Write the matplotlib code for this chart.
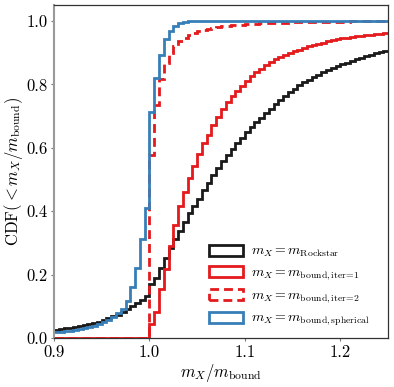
import numpy as np
import matplotlib
matplotlib.use("Agg")
import matplotlib.pyplot as plt
from matplotlib.patches import Patch

plt.rcParams['font.family'] = 'cmr10'
plt.rcParams['mathtext.fontset'] = 'cm'
plt.rcParams['axes.formatter.use_mathtext'] = True

# bin edges 0.900 ... 1.250 step 0.005
bin_width = 0.005
x_start = 0.9
n_bins = 70

cdf_rockstar = [
    0.025, 0.027, 0.030, 0.032, 0.035, 0.038, 0.041, 0.044, 0.048, 0.052,
    0.057, 0.062, 0.068, 0.074, 0.082, 0.090, 0.100, 0.110, 0.121, 0.133,
    0.170, 0.190, 0.220, 0.252, 0.284, 0.312, 0.338, 0.365, 0.393, 0.416,
    0.438, 0.466, 0.490, 0.515, 0.537, 0.557, 0.576, 0.596, 0.614, 0.632,
    0.650, 0.665, 0.680, 0.695, 0.710, 0.724, 0.738, 0.751, 0.764, 0.776,
    0.787, 0.798, 0.807, 0.815, 0.823, 0.831, 0.838, 0.845, 0.851, 0.857,
    0.863, 0.869, 0.874, 0.879, 0.884, 0.889, 0.894, 0.898, 0.902, 0.906,
]
cdf_iter1 = [
    0.0, 0.0, 0.0, 0.0, 0.0, 0.0, 0.0, 0.0, 0.0, 0.0,
    0.0, 0.0, 0.0, 0.0, 0.0, 0.0, 0.0, 0.0, 0.0, 0.0,
    0.043, 0.081, 0.155, 0.218, 0.289, 0.358, 0.415, 0.460, 0.505, 0.542,
    0.579, 0.614, 0.642, 0.671, 0.698, 0.722, 0.743, 0.762, 0.778, 0.795,
    0.812, 0.826, 0.838, 0.850, 0.862, 0.871, 0.879, 0.886, 0.893, 0.899,
    0.905, 0.910, 0.915, 0.920, 0.924, 0.928, 0.932, 0.936, 0.939, 0.942,
    0.945, 0.948, 0.950, 0.952, 0.954, 0.955, 0.957, 0.958, 0.960, 0.961,
]
cdf_iter2 = [
    0.0, 0.0, 0.0, 0.0, 0.0, 0.0, 0.0, 0.0, 0.0, 0.0,
    0.0, 0.0, 0.0, 0.0, 0.0, 0.0, 0.0, 0.0, 0.0, 0.0,
    0.577, 0.734, 0.816, 0.869, 0.900, 0.922, 0.938, 0.948, 0.956, 0.962,
    0.967, 0.971, 0.975, 0.978, 0.981, 0.983, 0.985, 0.987, 0.988, 0.989,
    0.990, 0.991, 0.992, 0.993, 0.993, 0.994, 0.994, 0.995, 0.995, 0.996,
    0.996, 0.996, 0.997, 0.997, 0.997, 0.997, 0.998, 0.998, 0.998, 0.998,
    0.998, 0.998, 0.999, 0.999, 0.999, 0.999, 0.999, 0.999, 0.999, 0.999,
]
cdf_spherical = [
    0.018, 0.019, 0.021, 0.023, 0.025, 0.028, 0.031, 0.035, 0.039, 0.044,
    0.050, 0.057, 0.067, 0.078, 0.091, 0.118, 0.160, 0.220, 0.312, 0.410,
    0.712, 0.820, 0.892, 0.943, 0.969, 0.985, 0.993, 0.997, 0.999, 1.0,
    1.0, 1.0, 1.0, 1.0, 1.0, 1.0, 1.0, 1.0, 1.0, 1.0,
    1.0, 1.0, 1.0, 1.0, 1.0, 1.0, 1.0, 1.0, 1.0, 1.0,
    1.0, 1.0, 1.0, 1.0, 1.0, 1.0, 1.0, 1.0, 1.0, 1.0,
    1.0, 1.0, 1.0, 1.0, 1.0, 1.0, 1.0, 1.0, 1.0, 1.0,
]

labels = [r'$m_X = m_{\rm Rockstar}$',
          r'$m_X = m_{\rm bound,iter\!=\!1}$',
          r'$m_X = m_{\rm bound,iter\!=\!2}$',
          r'$m_X = m_{\rm bound,spherical}$']

edges = x_start + bin_width * np.arange(n_bins + 1)

black = '#1a1a1a'
red = '#e41a1c'
blue = '#377eb8'
dash = (0, (3.2, 1.8))

fig = plt.figure(figsize=(3.94, 3.87), dpi=100)
ax = fig.add_axes([0.137, 0.1266, 0.848, 0.860])

lw = 2.0
ax.stairs(cdf_rockstar, edges, baseline=None, color=black, lw=lw)
ax.stairs(cdf_iter1, edges, baseline=None, color=red, lw=lw)
ax.stairs(cdf_iter2, edges, baseline=None, color=red, lw=lw, linestyle=dash)
ax.stairs(cdf_spherical, edges, baseline=None, color=blue, lw=lw)

ax.set_xlim(0.9, 1.25)
ax.set_ylim(0.0, 1.05)
ax.set_xticks([0.9, 1.0, 1.1, 1.2])
ax.set_yticks([0.0, 0.2, 0.4, 0.6, 0.8, 1.0])
ax.set_xticklabels(['0.9', '1.0', '1.1', '1.2'])
ax.set_yticklabels(['0.0', '0.2', '0.4', '0.6', '0.8', '1.0'])
ax.tick_params(direction='out', length=2.5, width=0.8, color='#777777',
               labelsize=12, pad=2)

for s in ['top', 'right', 'bottom']:
    ax.spines[s].set_color('#333333')
    ax.spines[s].set_linewidth(0.9)
ax.spines['left'].set_color('#999999')
ax.spines['left'].set_linewidth(1.5)

ax.set_xlabel(r'$m_X/m_{\rm bound}$', fontsize=12, labelpad=2)
ax.set_ylabel(r'CDF$(< m_X/m_{\rm bound})$', fontsize=12, labelpad=1)

handles = [
    Patch(facecolor='none', edgecolor=black, lw=lw),
    Patch(facecolor='none', edgecolor=red, lw=lw),
    Patch(facecolor='none', edgecolor=red, lw=lw, linestyle=dash),
    Patch(facecolor='none', edgecolor=blue, lw=lw),
]
ax.legend(handles, labels, loc='lower right', frameon=False, fontsize=10,
          handlelength=2.4, handleheight=0.9, labelspacing=0.45,
          handletextpad=0.6, borderaxespad=0.0,
          bbox_to_anchor=(0.962, 0.012))

fig.savefig('out.png', dpi=100)
